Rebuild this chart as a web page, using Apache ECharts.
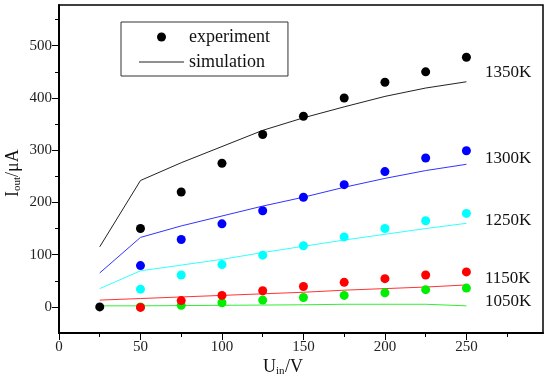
<!DOCTYPE html>
<html><head><meta charset="utf-8">
<script src="https://cdn.jsdelivr.net/npm/echarts@6/dist/echarts.min.js"></script>
<style>html,body{margin:0;padding:0;background:#fff}#c{width:550px;height:380px}</style>
</head><body><div id="c"></div>
<script>
const voltage = [25, 50, 75, 100, 125, 150, 175, 200, 225, 250];
const exp1350 = [0, 150, 220, 275, 330, 365, 400, 430, 450, 478];
const sim1350 = [115, 242, 276, 307, 338, 362, 383, 403, 419, 431];
const exp1300 = [null, 79, 129, 159, 184, 210, 234, 259, 285, 299];
const sim1300 = [65, 133, 155, 174, 193, 210, 229, 246, 261, 273];
const exp1250 = [null, 34, 61, 81, 99, 117, 134, 150, 165, 179];
const sim1250 = [35, 69, 80, 91, 104, 116, 128, 139, 150, 160];
const exp1150 = [null, -1, 12, 22, 31, 39, 47, 54, 61, 67];
const sim1150 = [13, 16, 19, 22, 25, 28, 32, 35, 38, 42];
const exp1050 = [null, 0, 3, 8, 13, 18, 22, 27, 33, 36];
const sim1050 = [2, 2, 2.5, 3, 3.5, 4, 5, 5, 5, 2];
const yTicks = [0, 100, 200, 300, 400, 500];
const yMinor = [50, 150, 250, 350, 450, 550];
const xTicks = [0, 50, 100, 150, 200, 250];
const xMinor = [25, 75, 125, 175, 225, 275];
const tempLabels = ['1350K', '1300K', '1250K', '1150K', '1050K'];
const tempLabelY = [73, 159, 221, 279, 302];

const FONT = '"Liberation Serif", "DejaVu Serif", serif';
const pairs = arr => voltage.map((x, i) => [x, arr[i]]).filter(p => p[1] !== null);

const groups = [
  {exp: exp1050, sim: sim1050, color: '#00ee00', line: '#33ee33'},
  {exp: exp1150, sim: sim1150, color: '#ff0000', line: '#ff3333'},
  {exp: exp1250, sim: sim1250, color: '#00ffff', line: '#33ffff'},
  {exp: exp1300, sim: sim1300, color: '#0000ff', line: '#3333ff'},
  {exp: exp1350, sim: sim1350, color: '#000000', line: '#222222'}
];

const series = [];
groups.forEach((g, k) => {
  series.push({
    type: 'line', name: k === 4 ? 'simulation' : 'sim' + k,
    data: pairs(g.sim), showSymbol: false, symbol: 'none',
    lineStyle: {color: g.line, width: 1}, itemStyle: {color: g.line},
    z: 2, silent: true
  });
});
groups.forEach((g, k) => {
  series.push({
    type: 'scatter', name: k === 4 ? 'experiment' : 'exp' + k,
    data: pairs(g.exp), symbol: 'circle', symbolSize: 9,
    itemStyle: {color: g.color, opacity: 1}, z: 3, silent: true
  });
});

const labelStyle = {fontFamily: FONT, fontSize: 15, color: '#222'};

const chart = echarts.init(document.getElementById('c'), null, {renderer: 'canvas'});
chart.setOption({
  animation: false,
  backgroundColor: '#fff',
  grid: {left: 59, right: 7, top: 5, bottom: 47, show: true, borderColor: '#000', borderWidth: 1.5, backgroundColor: 'transparent'},
  legend: {
    data: [{name: 'experiment', icon: 'circle'}, {name: 'simulation', icon: 'path://M0,0h45v1h-45z'}],
    orient: 'vertical', left: 121, top: 22,
    itemWidth: 45, itemHeight: 9, itemGap: 7,
    padding: [6, 18, 5, 18],
    borderColor: '#333', borderWidth: 1,
    textStyle: {fontFamily: FONT, fontSize: 18, color: '#111'},
    selectedMode: false
  },
  xAxis: [{
    type: 'value', min: 0, max: 297, interval: 50,
    axisLine: {show: true, onZero: false, lineStyle: {color: '#000', width: 2}},
    axisTick: {show: true, length: 7, customValues: xTicks, lineStyle: {color: '#000', width: 1}},
    axisLabel: {customValues: xTicks, margin: 7, ...labelStyle},
    splitLine: {show: false}
  }, {
    type: 'value', min: 0, max: 297, position: 'bottom',
    axisLine: {show: false, onZero: false},
    axisTick: {show: true, length: 4, customValues: xMinor, lineStyle: {color: '#000', width: 1}},
    axisLabel: {show: false, customValues: xMinor},
    splitLine: {show: false}
  }],
  yAxis: [{
    type: 'value', min: -50, max: 578,
    axisLine: {show: true, onZero: false, lineStyle: {color: '#000', width: 2}},
    axisTick: {show: true, length: 7, customValues: yTicks, lineStyle: {color: '#000', width: 1}},
    axisLabel: {customValues: yTicks, margin: 7, ...labelStyle},
    splitLine: {show: false}
  }, {
    type: 'value', min: -50, max: 578, position: 'left',
    axisLine: {show: false, onZero: false},
    axisTick: {show: true, length: 4, customValues: yMinor, lineStyle: {color: '#000', width: 1}},
    axisLabel: {show: false, customValues: yMinor},
    splitLine: {show: false}
  }],
  series: series,
  graphic: [
    {
      type: 'group', x: 13, y: 174, rotation: Math.PI / 2,
      children: [
        {type: 'text', x: -23, y: 0, style: {text: 'I', fontFamily: FONT, fontSize: 18, fill: '#111', verticalAlign: 'middle', align: 'left'}},
        {type: 'text', x: -17, y: 4, style: {text: 'out', fontFamily: FONT, fontSize: 11, fill: '#111', verticalAlign: 'middle', align: 'left'}},
        {type: 'text', x: -3, y: 0, style: {text: '/\u03bcA', fontFamily: FONT, fontSize: 18, fill: '#111', verticalAlign: 'middle', align: 'left'}}
      ]
    },
    {type: 'text', x: 263, y: 367, style: {text: 'U', fontFamily: FONT, fontSize: 18, fill: '#111', verticalAlign: 'middle', align: 'left'}},
    {type: 'text', x: 276, y: 371, style: {text: 'in', fontFamily: FONT, fontSize: 11, fill: '#111', verticalAlign: 'middle', align: 'left'}},
    {type: 'text', x: 285, y: 367, style: {text: '/V', fontFamily: FONT, fontSize: 18, fill: '#111', verticalAlign: 'middle', align: 'left'}}
  ].concat(tempLabels.map((t, i) => ({
    type: 'text', x: 485, y: tempLabelY[i],
    style: {text: t, fontFamily: FONT, fontSize: 17, fill: '#111', verticalAlign: 'middle', align: 'left'}
  })))
});
</script>
</body></html>
